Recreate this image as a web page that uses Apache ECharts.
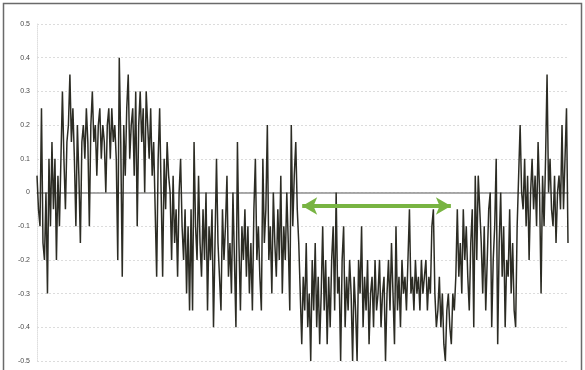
<!DOCTYPE html>
<html>
<head>
<meta charset="utf-8">
<script src="https://cdn.jsdelivr.net/npm/echarts@6/dist/echarts.min.js"></script>
<style>
  html, body { margin: 0; padding: 0; background: #ffffff; }
  #chart { width: 585px; height: 370px; }
</style>
</head>
<body>
<div id="chart"></div>
<script>
// Anomaly series, split into its successive phases (values in 0.05 steps)
const phaseOpening = [0.05,-0.05,-0.1,0.25,-0.15,-0.2,0.0,-0.3,0.1,-0.1,0.15,-0.05,0.1,-0.2,0.05,-0.1,0.1];

const phaseHigh = [
  0.3,0.1,-0.05,0.15,0.2,0.35,0.15,0.25,0.1,-0.1,
  0.2,0.05,-0.15,0.15,0.2,0.1,0.25,0.15,-0.1,0.2,
  0.3,0.15,0.2,0.05,0.2,0.25,0.1,0.2,0.15,0.0,
  0.2,0.25,0.1,0.25,0.15,0.2,0.1,-0.2,0.4,0.15,
  -0.25,0.2,0.05,0.25,0.35,0.1,0.2,0.25,0.05,0.3,
  -0.1,0.2,0.3,0.15,0.25,0.0,0.3,0.2,0.1,0.25,
  0.05,0.15,-0.05,-0.25,0.1,0.25,0.0,-0.25,0.1,-0.05,
  0.15,0.05
];

const phaseMid = [
  0.0,-0.2,0.05,-0.15,-0.05,-0.25,0.0,0.1,-0.1,-0.2,
  -0.05,-0.3,-0.1,-0.35,-0.05,-0.35,0.15,-0.1,-0.2,0.05,
  -0.15,-0.25,-0.05,-0.2,0.0,-0.35,-0.1,-0.2,-0.05,-0.4,
  -0.4,0.1,-0.15,-0.25,-0.35,-0.05,-0.2,-0.1,0.05,-0.25,
  -0.15,-0.3,0.0,-0.2,-0.4,0.15,-0.15,-0.35,-0.1,-0.2,
  -0.05,-0.25,-0.1,-0.3,-0.15,-0.35,-0.05,0.1,-0.2,-0.1,
  -0.25,-0.35,0.1,-0.15,-0.05,0.2,-0.2,-0.1,-0.3,0.0,
  -0.15,-0.25,-0.05,-0.2,0.05,-0.3,-0.1,-0.2,0.0,-0.15,
  -0.35,0.2,-0.1,0.05,0.15,-0.05,-0.15
];

const phaseLow = [
  -0.15,-0.45,-0.25,-0.35,-0.15,-0.4,-0.3,-0.5,-0.2,-0.35,
  -0.15,-0.4,-0.25,-0.45,-0.3,-0.1,-0.35,-0.2,-0.45,-0.25,
  -0.4,-0.2,-0.1,-0.35,0.0,-0.3,-0.25,-0.5,-0.2,-0.1,
  -0.4,-0.25,-0.35,-0.2,-0.3,-0.5,-0.25,-0.35,-0.5,-0.2,
  -0.3,-0.1,-0.4,-0.25,-0.35,-0.2,-0.45,-0.3,-0.25,-0.4,
  -0.2,-0.35,-0.3,-0.2,-0.4,-0.3,-0.25,-0.5,-0.3,-0.2,
  -0.35,-0.15,-0.3,-0.45,-0.1,-0.35,-0.25,-0.4,-0.2,-0.3,
  -0.25,-0.35,-0.2,-0.05,-0.3,-0.25,-0.35,-0.2,-0.3,-0.25,
  -0.35,-0.2,-0.3,-0.25,-0.2,-0.35,-0.25,-0.3,-0.1,-0.05,
  -0.3,-0.4,-0.35,-0.25,-0.4,-0.3,-0.45,-0.5,-0.35,-0.3,
  -0.4,-0.45,-0.3,-0.35,-0.25
];

const phaseRecovery = [
  -0.05,-0.25,-0.15,-0.3,-0.05,-0.2,-0.1,-0.25,-0.35,-0.15,
  -0.05,-0.4,0.05,-0.2,0.05,0.05,-0.15,-0.3,-0.1,-0.35,
  -0.2,-0.05,0.0,-0.4,-0.2,-0.1,0.1,-0.45,-0.15,0.0,
  -0.25,-0.1,-0.4,-0.2,-0.25,-0.05,-0.3,-0.15,-0.35,-0.4
];

const phaseClosing = [
  -0.1,0.05,0.2,0.0,-0.05,0.1,-0.1,0.05,-0.2,0.0,
  0.1,-0.05,0.05,-0.1,0.15,0.0,-0.3,0.05,-0.1,0.1,
  0.35,0.0,0.1,-0.05,-0.1,0.05,-0.15,0.0,0.05,-0.05,
  0.2,-0.05,0.1,0.25,-0.15
];

// Value axis ticks
const yTicks = [-0.5,-0.4,-0.3,-0.2,-0.1,0,0.1,0.2,0.3,0.4,0.5];

// Span marked by the double-headed arrow (sample index) and its height
const arrowSpan = [177.3, 276.7];
const arrowLevel = -0.04;

const values = [].concat(phaseOpening, phaseHigh, phaseMid, phaseLow, phaseRecovery, phaseClosing);
const points = values.map((v, i) => [i, v]);

const chart = echarts.init(document.getElementById('chart'), null, { renderer: 'canvas' });

chart.setOption({
  animation: false,
  backgroundColor: '#ffffff',
  grid: { left: 37, right: 17, top: 24, bottom: 9, containLabel: false },
  xAxis: {
    type: 'value',
    min: 0,
    max: values.length - 1,
    axisLine: { show: true, onZero: true, lineStyle: { color: '#8f8f8f', width: 1.5 } },
    axisTick: { show: false },
    axisLabel: { show: false },
    splitLine: { show: false }
  },
  yAxis: {
    type: 'value',
    min: yTicks[0],
    max: yTicks[yTicks.length - 1],
    interval: 0.1,
    axisLine: { show: true, lineStyle: { color: '#dedede', type: 'dotted', width: 1 } },
    axisTick: { show: false },
    axisLabel: {
      color: '#4a4a4a',
      fontSize: 7,
      fontFamily: 'Liberation Sans, Arial, sans-serif',
      margin: 7,
      formatter: v => {
        const r = Math.round(v * 10) / 10;
        return yTicks.some(t => Math.abs(t - r) < 1e-9) ? String(r) : '';
      }
    },
    splitLine: { show: true, lineStyle: { color: '#dcdcdc', type: [2, 2], width: 1 } }
  },
  graphic: [{
    type: 'rect',
    shape: { x: 3.5, y: 3.5, width: 578, height: 380 },
    style: { fill: 'none', stroke: '#6a6a6a', lineWidth: 1.5 },
    silent: true,
    z: 10
  }],
  series: [{
    type: 'line',
    data: points,
    showSymbol: false,
    symbol: 'none',
    lineStyle: { color: '#2c2c24', width: 1.5 },
    emphasis: { disabled: true },
    markLine: {
      silent: true,
      symbol: ['arrow', 'arrow'],
      symbolSize: [13, 15],
      label: { show: false },
      lineStyle: { color: '#78b442', width: 4, type: 'solid' },
      emphasis: { disabled: true },
      data: [[
        { coord: [arrowSpan[0], arrowLevel] },
        { coord: [arrowSpan[1], arrowLevel] }
      ]]
    }
  }]
});
</script>
</body>
</html>
